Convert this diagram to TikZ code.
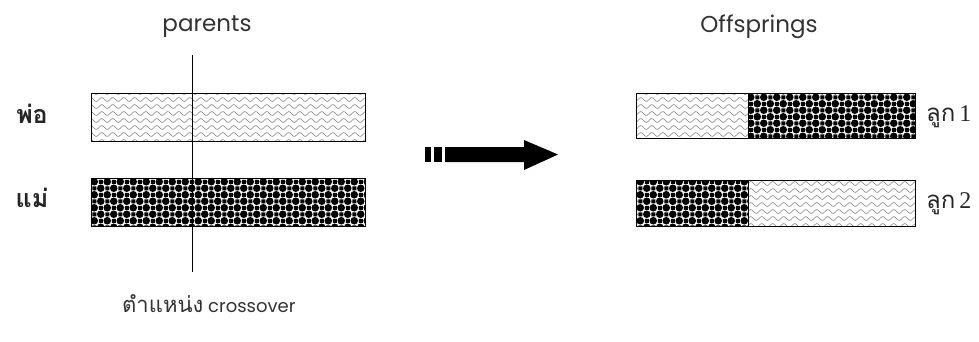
\documentclass[tikz,border=0pt]{standalone}
\usepackage{fontspec}
\setmainfont{Poppins}
\newfontfamily\thaifont[Script=Thai]{Loma}
\newfontfamily\digitfont{Liberation Serif}
\usetikzlibrary{patterns}
\pgfdeclarepatternformonly{waves}{\pgfpoint{-1pt}{-1pt}}{\pgfpoint{12pt}{8pt}}{\pgfpoint{11pt}{7pt}}{
  \pgfsetlinewidth{0.6pt}
  \pgfpathmoveto{\pgfpoint{0pt}{3.5pt}}
  \pgfpathcurveto{\pgfpoint{2pt}{6pt}}{\pgfpoint{3.5pt}{6pt}}{\pgfpoint{5.5pt}{3.5pt}}
  \pgfpathcurveto{\pgfpoint{7.5pt}{1pt}}{\pgfpoint{9pt}{1pt}}{\pgfpoint{11pt}{3.5pt}}
  \pgfusepath{stroke}}
\pgfdeclarepatternformonly{balls}{\pgfpoint{-1pt}{-1pt}}{\pgfpoint{14pt}{14pt}}{\pgfpoint{13pt}{13pt}}{
  \pgfpathcircle{\pgfpoint{3.25pt}{3.25pt}}{3.8pt}
  \pgfpathcircle{\pgfpoint{9.75pt}{9.75pt}}{3.8pt}
  \pgfpathrectangle{\pgfpoint{7.75pt}{1.25pt}}{\pgfpoint{4pt}{4pt}}
  \pgfpathrectangle{\pgfpoint{1.25pt}{7.75pt}}{\pgfpoint{4pt}{4pt}}
  \pgfusepath{fill}}
\tikzset{
  light/.style={pattern=waves, pattern color=black!50},
  dark/.style={pattern=balls, pattern color=black},
  barline/.style={draw=black, line width=0.9pt},
  lbl/.style={font=\fontsize{23}{26}\selectfont, text=black!80, inner sep=0pt},
  thlbl/.style={font=\thaifont\fontsize{25}{28}\selectfont\bfseries, text=black!85, inner sep=0pt},
  kid/.style={font=\thaifont\fontsize{24}{28}\selectfont, text=black!85, inner sep=0pt, anchor=west}
}
\begin{document}
\begin{tikzpicture}[x=1pt,y=-1pt]
\useasboundingbox (0,0) rectangle (979,341);
\fill[white] (0,0) rectangle (979,341);
% titles
\node[lbl] (parents) at (207,27) {parents};
\node[lbl] (offs) at (759,27) {Offsprings};
% father bar
\path[light] (91,93) rectangle (365,141);
\draw[barline] (91,93) rectangle (365,141);
% mother bar
\path[dark] (91,178) rectangle (365,226);
\draw[barline] (91,178) rectangle (365,226);
% cut line
\coordinate (ctop) at (192,55);
\coordinate (cbot) at (192,272);
\draw[line width=0.9pt] (ctop) -- (cbot);
\node[thlbl] (pho) at (32,114) {พ่อ};
\node[thlbl] (mae) at (32,198) {แม่};
\node[font=\fontsize{18}{20}\selectfont, text=black!80, inner sep=0pt, anchor=base west] (cross) at (122,312) {{\thaifont\fontsize{22}{24}\selectfont ตำแหน่ง} crossover};
% arrow
\fill (425,147) rectangle (431,162);
\fill (434,147) rectangle (442,162);
\fill (445,147) -- (524,147) -- (524,140) -- (558,154.5) -- (524,170) -- (524,162) -- (445,162) -- cycle;
% child 1
\path[light] (636,93) rectangle (748,138);
\path[dark] (748,93) rectangle (915,138);
\draw[barline] (636,93) rectangle (915,138);
\draw[barline] (748,93) -- (748,138);
% child 2
\path[dark] (636,180) rectangle (748,226);
\path[light] (748,180) rectangle (915,226);
\draw[barline] (636,180) rectangle (915,226);
\draw[barline] (748,180) -- (748,226);
\node[kid] (k1) at (926,117) {ลูก\,{\digitfont 1}};
\node[kid] (k2) at (926,204) {ลูก\,{\digitfont 2}};
\end{tikzpicture}
\end{document}
